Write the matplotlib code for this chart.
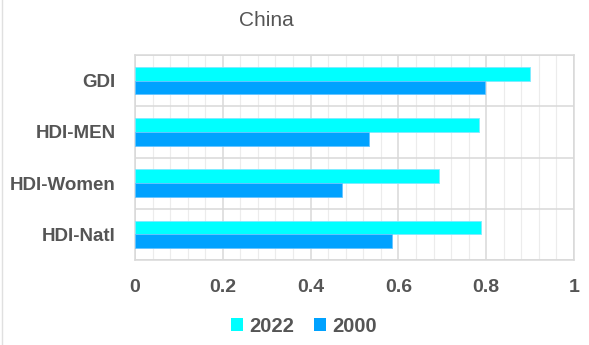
import matplotlib
matplotlib.use("Agg")
import matplotlib.pyplot as plt
from matplotlib.ticker import MultipleLocator
from matplotlib.patches import Patch
import numpy as np

categories = ["GDI", "HDI-MEN", "HDI-Women", "HDI-Natl"]
values_2022 = [0.900, 0.784, 0.692, 0.788]
values_2000 = [0.798, 0.532, 0.472, 0.586]
xticks = [0, 0.2, 0.4, 0.6, 0.8, 1]
xtick_labels = ["0", "0.2", "0.4", "0.6", "0.8", "1"]
title = "China"

plt.rcParams['font.family'] = ['Liberation Sans', 'DejaVu Sans']
txt = "#555555"

fig = plt.figure(figsize=(5.89, 3.45), dpi=100)
ax = fig.add_axes([135/589, 1-260/345, (574-135)/589, (260-55)/345])

y = np.arange(len(categories))
h = 0.27
c2022 = "#00FFFF"
c2000 = "#00A2FF"
ax.barh(y - h/2, values_2022, height=h, color=c2022, edgecolor="#7fe9ff", linewidth=0.6, zorder=3)
ax.barh(y + h/2, values_2000, height=h, color=c2000, edgecolor="#66c4ff", linewidth=0.6, zorder=3)

ax.set_xlim(0, 1)
ax.set_ylim(len(categories) - 0.5, -0.5)
ax.set_xticks(xticks)
ax.set_xticklabels(xtick_labels, fontsize=14, fontweight="bold", color=txt)
ax.xaxis.set_minor_locator(MultipleLocator(0.04))
ax.set_yticks(y)
ax.set_yticklabels(categories, fontsize=13.5, fontweight="bold", color=txt)
ax.set_yticks(np.arange(len(categories) + 1) - 0.5, minor=True)

ax.grid(which="major", axis="x", color="#d9d9d9", linewidth=1.1, zorder=0)
ax.grid(which="minor", axis="x", color="#ececec", linewidth=0.8, zorder=0)
ax.grid(which="minor", axis="y", color="#d9d9d9", linewidth=1.1, zorder=0)
ax.tick_params(axis="both", which="both", length=0)
ax.tick_params(axis="x", pad=14)
ax.tick_params(axis="y", pad=14)
for s in ax.spines.values():
    s.set_color("#d9d9d9")
    s.set_linewidth(1.1)

fig.text(266/589, 1-21/345, title, ha="center", va="center", fontsize=15, color=txt)

handles = [Patch(facecolor=c2022, edgecolor="none", label="2022"),
           Patch(facecolor=c2000, edgecolor="none", label="2000")]
fig.legend(handles=handles, loc="center", bbox_to_anchor=(304/589, 1-326/345),
           ncol=2, frameon=False, handlelength=0.6, handleheight=0.6,
           handletextpad=0.3, columnspacing=1.0,
           prop={"size": 14.5, "weight": "bold"}, labelcolor=txt)

fig.add_artist(plt.Line2D([2/589, 2/589], [0, 1], transform=fig.transFigure, color="#e0e0e0", linewidth=1))

fig.savefig("out.png", dpi=100)
